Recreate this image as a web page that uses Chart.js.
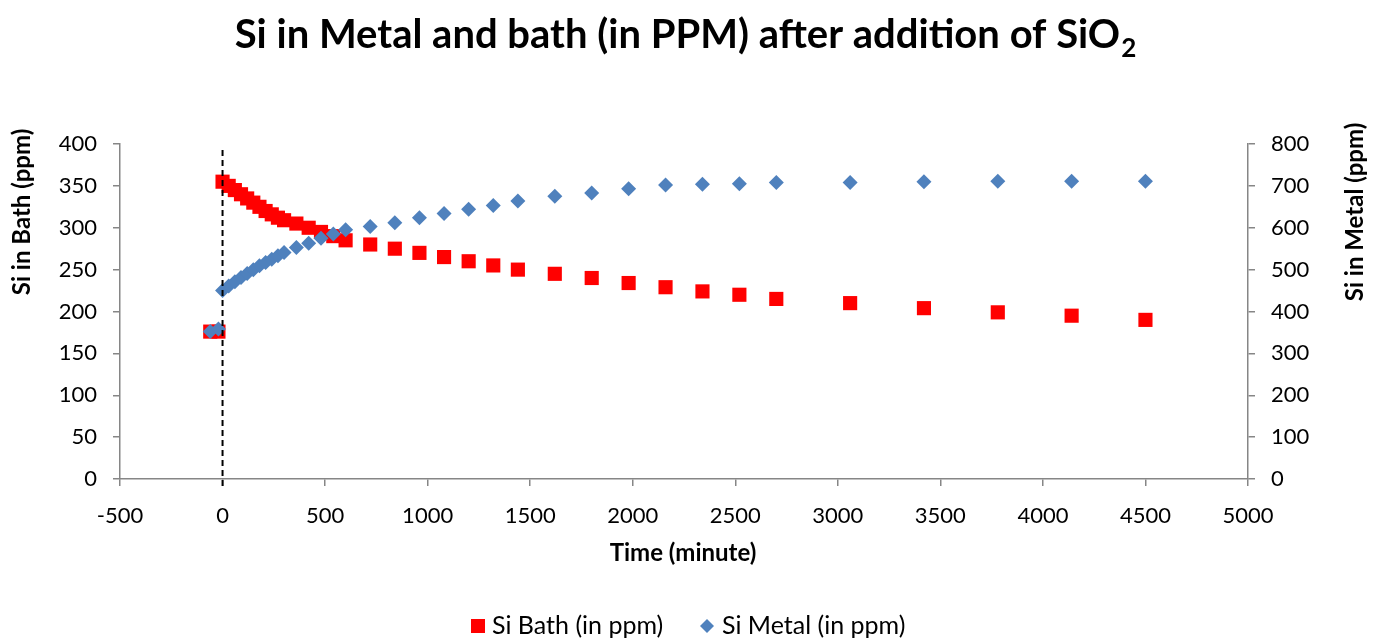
<!DOCTYPE html>
<html>
<head>
<meta charset="utf-8">
<script src="https://cdn.jsdelivr.net/npm/chart.js@4.4.1/dist/chart.umd.min.js"></script>
<style>
  html, body { margin: 0; padding: 0; background: #ffffff; }
  #wrap { width: 1377px; height: 642px; }
</style>
</head>
<body>
<div id="wrap"><canvas id="chart" width="1377" height="642"></canvas></div>
<script>
// Sampling times (minutes) relative to the SiO2 addition
const times = [-60, -20,
  0, 30, 60, 90, 120, 150, 180, 210, 240, 270, 300,
  360, 420, 480, 540, 600,
  720, 840, 960, 1080, 1200, 1320, 1440,
  1620, 1800, 1980, 2160, 2340, 2520, 2700,
  3060, 3420, 3780, 4140, 4500];

// Si in the bath (ppm), left axis
const bathValues = [176, 176,
  355, 350, 345, 340, 335, 330, 325, 320, 316, 312, 309,
  305, 300, 295, 290, 285,
  280, 275, 270, 265, 260, 255, 250,
  245, 240, 234, 229, 224, 220, 215,
  210, 204, 199, 195, 190];

// Si in the metal (ppm), right axis
const metalValues = [352, 358,
  450, 461, 471, 481, 491, 500, 509, 517, 525, 533, 541,
  553, 563, 575, 585, 595,
  603, 612, 624, 634, 644, 653, 664,
  675, 683, 693, 702, 704, 705, 708,
  708, 710, 711, 711, 711];

const xTicks = { min: -500, max: 5000, step: 500 };
const bathTicks = { min: 0, max: 400, step: 50 };
const metalTicks = { min: 0, max: 800, step: 100 };
const additionTime = 0;

const titleText = 'Si in Metal and bath (in PPM) after addition of SiO';
const titleSub = '2';
const xTitle = 'Time (minute)';
const bathTitle = 'Si in Bath (ppm)';
const metalTitle = 'Si in Metal (ppm)';
const bathLabel = 'Si Bath (in ppm)';
const metalLabel = 'Si Metal (in ppm)';

const FONT = 'Lato';
const AXIS_GREY = '#868686';
const RED = '#ff0000';
const BLUE = '#4f81bd';

const toPoints = (vals) => vals.map((v, i) => ({ x: times[i], y: v }));

const decorations = {
  id: 'decorations',
  afterDatasetsDraw(chart) {
    const { ctx, scales } = chart;
    const px = scales.x.getPixelForValue(additionTime);
    ctx.save();
    ctx.setLineDash([6, 4]);
    ctx.lineWidth = 2;
    ctx.strokeStyle = '#000000';
    ctx.beginPath();
    ctx.moveTo(px, chart.chartArea.top + 6);
    ctx.lineTo(px, chart.chartArea.bottom + 7);
    ctx.stroke();
    ctx.restore();
  },
  afterDraw(chart) {
    const { ctx } = chart;
    ctx.save();
    ctx.fillStyle = '#000000';

    // Chart title with subscript
    ctx.font = `bold 40px ${FONT}`;
    const mainW = ctx.measureText(titleText).width;
    ctx.font = `bold 26px ${FONT}`;
    const subW = ctx.measureText(titleSub).width;
    const startX = 685 - (mainW + subW) / 2;
    ctx.textBaseline = 'alphabetic';
    ctx.textAlign = 'left';
    ctx.font = `bold 40px ${FONT}`;
    ctx.fillText(titleText, startX, 48);
    ctx.font = `bold 26px ${FONT}`;
    ctx.fillText(titleSub, startX + mainW + 1, 57);

    // Axis titles
    ctx.font = `bold 24px ${FONT}`;
    ctx.textAlign = 'center';
    ctx.textBaseline = 'middle';
    ctx.fillText(xTitle, 683, 553);

    ctx.save();
    ctx.translate(22, 212);
    ctx.rotate(-Math.PI / 2);
    ctx.fillText(bathTitle, 0, 0);
    ctx.restore();

    ctx.save();
    ctx.translate(1355, 212);
    ctx.rotate(-Math.PI / 2);
    ctx.fillText(metalTitle, 0, 0);
    ctx.restore();

    // Legend
    const ly = 626;
    ctx.font = `25px ${FONT}`;
    ctx.textAlign = 'left';
    ctx.fillStyle = RED;
    ctx.fillRect(471, ly - 7, 14, 14);
    ctx.fillStyle = '#000000';
    ctx.fillText(bathLabel, 492, ly);
    ctx.fillStyle = BLUE;
    ctx.beginPath();
    ctx.moveTo(700, ly);
    ctx.lineTo(707, ly - 7);
    ctx.lineTo(714, ly);
    ctx.lineTo(707, ly + 7);
    ctx.closePath();
    ctx.fill();
    ctx.fillStyle = '#000000';
    ctx.fillText(metalLabel, 722, ly);

    ctx.restore();
  }
};

const tickFont = { family: FONT, size: 22 };
const plainTick = (v) => String(v);
const axisGrid = {
  display: true,
  drawOnChartArea: false,
  drawTicks: true,
  tickLength: 7,
  color: AXIS_GREY,
  lineWidth: 1.5
};
const axisBorder = { display: true, color: AXIS_GREY, width: 1.5 };

new Chart(document.getElementById('chart'), {
  type: 'scatter',
  data: {
    datasets: [
      {
        label: metalLabel,
        data: toPoints(metalValues),
        yAxisID: 'y2',
        pointStyle: 'rectRot',
        pointRadius: 7.5,
        pointHoverRadius: 7.5,
        backgroundColor: BLUE,
        borderColor: BLUE,
        borderWidth: 0
      },
      {
        label: bathLabel,
        data: toPoints(bathValues),
        yAxisID: 'y',
        pointStyle: 'rect',
        pointRadius: 10,
        pointHoverRadius: 10,
        backgroundColor: RED,
        borderColor: RED,
        borderWidth: 0
      }
    ]
  },
  options: {
    responsive: false,
    animation: false,
    devicePixelRatio: 1,
    layout: { padding: { top: 144, left: 0, right: 0, bottom: 0 } },
    plugins: {
      legend: { display: false },
      title: { display: false },
      tooltip: { enabled: false }
    },
    scales: {
      x: {
        type: 'linear',
        position: 'bottom',
        min: xTicks.min,
        max: xTicks.max,
        ticks: { stepSize: xTicks.step, color: '#000000', font: tickFont, padding: 17, maxRotation: 0, callback: plainTick },
        grid: axisGrid,
        border: axisBorder,
        afterFit(scale) { scale.height = 163; }
      },
      y: {
        type: 'linear',
        position: 'left',
        min: bathTicks.min,
        max: bathTicks.max,
        ticks: { stepSize: bathTicks.step, color: '#000000', font: tickFont, padding: 16, callback: plainTick },
        grid: axisGrid,
        border: axisBorder,
        afterFit(scale) { scale.width = 120; }
      },
      y2: {
        type: 'linear',
        position: 'right',
        min: metalTicks.min,
        max: metalTicks.max,
        ticks: { stepSize: metalTicks.step, color: '#000000', font: tickFont, padding: 16, callback: plainTick },
        grid: axisGrid,
        border: axisBorder,
        afterFit(scale) { scale.width = 129; }
      }
    }
  },
  plugins: [decorations]
});
</script>
</body>
</html>
